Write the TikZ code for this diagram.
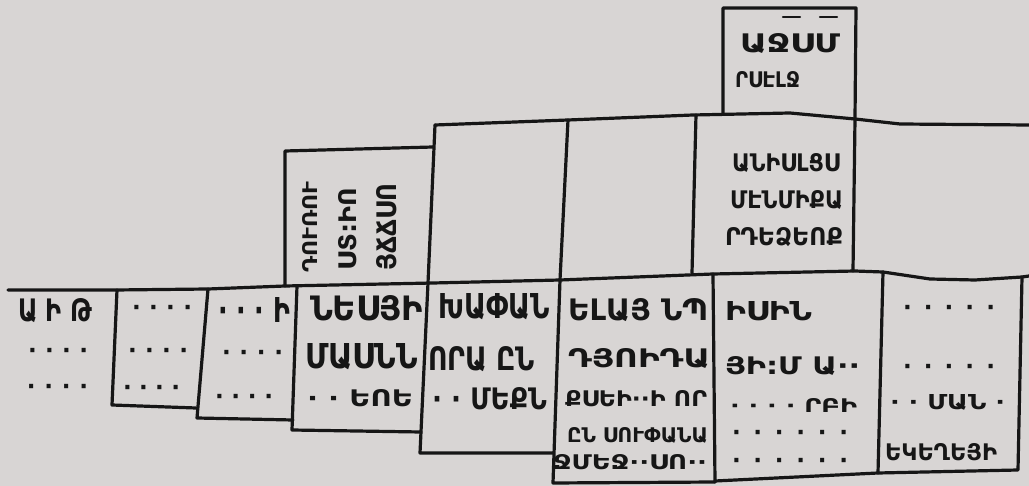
\documentclass[tikz,border=0pt]{standalone}
\usepackage{fontspec}
\usepackage{graphicx}
\newfontfamily\arm{DejaVu Sans}
\definecolor{bg}{RGB}{216,213,212}
\definecolor{ink}{RGB}{22,22,22}
\newcommand\T[3]{\resizebox{#1pt}{#2pt}{\arm\bfseries #3}}
\newcommand\DD[2]{\hbox to #1pt{\arm\bfseries\fontsize{23}{23}\selectfont #2}}
\tikzset{
  txt/.style={inner sep=0pt, outer sep=0pt, anchor=west, text=ink},
  dtxt/.style={inner sep=0pt, outer sep=0pt, anchor=base west, text=ink, yshift=-8pt},
  vtxt/.style={inner sep=0pt, outer sep=0pt, anchor=center, rotate=90, text=ink},
  ln/.style={line width=3.2pt, draw=ink, line join=round, line cap=round},
  bar/.style={line width=2.2pt, draw=ink, line cap=round}
}
\begin{document}
\begin{tikzpicture}[x=1pt,y=-1pt]
\fill[bg] (0,0) rectangle (1029,486);
\useasboundingbox (0,0) rectangle (1029,486);
% main line
\draw[ln] (8,290) -- (115,290) -- (208,289) -- (285,286) -- (433,283) -- (560,280) -- (713,274) -- (855,271) -- (883,272) -- (930,279) -- (975,280) -- (1022,277) -- (1029,276);
% bottom row cells
\draw[ln] (117,290) -- (112,405) -- (196,408);
\draw[ln] (208,289) -- (197,418) -- (293,420);
\draw[ln] (297,286) -- (292,430) -- (421,432);
\draw[ln] (428,283) -- (420,453) -- (553,453);
\draw[ln] (560,280) -- (553,483) -- (715,482);
\draw[ln] (713,274) -- (715,482);
\draw[ln] (715,481) -- (878,473) -- (1018,470) -- (1022,277);
\draw[ln] (883,272) -- (878,473);
% upper boxes
\draw[ln] (285,286) -- (285,151) -- (433,147);
\draw[ln] (435,125) -- (428,283);
\draw[ln] (435,125) -- (568,120) -- (693,115) -- (790,113) -- (855,119) -- (900,124) -- (1029,125);
\draw[ln] (568,120) -- (560,280);
\draw[ln] (696,115) -- (692,273);
\draw[ln] (855,119) -- (853,271);
\draw[ln] (723,113) -- (723,8) -- (856,8) -- (855,119);
% top box
\node[txt] (tA) at (740,43) {\T{100}{19}{ԱՋՍՄ}};
\node[txt] (tB) at (735,80) {\T{65}{16}{ՐՍԷԼՋ}};
\draw[bar] (783,17) -- (800,17);
\draw[bar] (820,17) -- (837,17);
% box D
\node[txt] (dA) at (732,163) {\T{108}{18}{ԱՆԻՍԼՑՍ}};
\node[txt] (dB) at (730,200) {\T{113}{18}{ՄԷՆՄԻՔԱ}};
\node[txt] (dC) at (725,237) {\T{118}{18}{ՐԴԵՁԵՈՔ}};
% box A vertical
\node[vtxt] (vA) at (310,227) {\T{91}{15}{ԴՈՒՌՈՒ}};
\node[vtxt] (vB) at (348,229) {\T{82}{18}{ՍՏ:ԻՈ}};
\node[vtxt] (vC) at (387,227) {\T{87}{20}{ՅՃՃՍՈ}};
% cell 1
\node[txt] (c1a) at (18,311) {\T{74}{23}{Ա Ի Թ}};
\node[dtxt] (c1b) at (28,351) {\DD{60}{·\hfil·\hfil·\hfil·}};
\node[dtxt] (c1c) at (27,387) {\DD{61}{·\hfil·\hfil·\hfil·}};
% cell 2
\node[dtxt] (c2a) at (132,308) {\DD{60}{·\hfil·\hfil·\hfil·}};
\node[dtxt] (c2b) at (128,351) {\DD{60}{·\hfil·\hfil·\hfil·}};
\node[dtxt] (c2c) at (123,388) {\DD{57}{·\hfil·\hfil·\hfil·}};
% cell 3
\node[txt] (c3a) at (218,310) {\T{72}{25}{· · · Ի}};
\node[dtxt] (c3b) at (222,353) {\DD{61}{·\hfil·\hfil·\hfil·}};
\node[dtxt] (c3c) at (215,397) {\DD{58}{·\hfil·\hfil·\hfil·}};
% cell 4
\node[txt] (c4a) at (310,308) {\T{113}{25}{ՆԵՍՅԻ}};
\node[txt] (c4b) at (305,357) {\T{113}{25}{ՄԱՍՆՆ}};
\node[txt] (c4c) at (307,398) {\T{106}{17}{· · ԵՈԵ}};
% cell 5
\node[txt] (c5a) at (438,307) {\T{112}{25}{ԽԱՓԱՆ}};
\node[txt] (c5b) at (428,359) {\T{107}{24}{ՈՐԱ ԸՆ}};
\node[txt] (c5c) at (432,399) {\T{115}{22}{· · ՄԵՔՆ}};
% cell 6
\node[txt] (c6a) at (568,310) {\T{140}{22}{ԵԼԱՅ ՆՊ}};
\node[txt] (c6b) at (568,358) {\T{142}{19}{ԴՅՈԻԴԱ}};
\node[txt] (c6c) at (565,399) {\T{142}{16}{ՔՍԵԻ··Ի ՈՐ}};
\node[txt] (c6d) at (567,435) {\T{141}{15}{ԸՆ ՍՈՒՓԱՆԱ}};
\node[txt] (c6e) at (553,462) {\T{154}{15}{ՋՄԵՋ··ՍՈ··}};
% cell 7
\node[txt] (c7a) at (725,311) {\T{87}{19}{ԻՍԻՆ}};
\node[txt] (c7b) at (725,366) {\T{135}{18}{ՅԻ:Մ Ա··}};
\node[txt] (c7c) at (730,406) {\T{127}{14}{· · · · ՐԲԻ}};
\node[dtxt] (c7d) at (732,433) {\DD{116}{·\hfil·\hfil·\hfil·\hfil·\hfil·}};
\node[dtxt] (c7e) at (732,460) {\DD{116}{·\hfil·\hfil·\hfil·\hfil·\hfil·}};
% cell 8
\node[dtxt] (c8a) at (903,308) {\DD{92}{·\hfil·\hfil·\hfil·\hfil·}};
\node[dtxt] (c8b) at (903,367) {\DD{92}{·\hfil·\hfil·\hfil·\hfil·}};
\node[txt] (c8c) at (890,402) {\T{115}{15}{· · ՄԱՆ ·}};
\node[txt] (c8d) at (885,452) {\T{112}{17}{ԵԿԵՂԵՅԻ}};
\end{tikzpicture}
\end{document}
